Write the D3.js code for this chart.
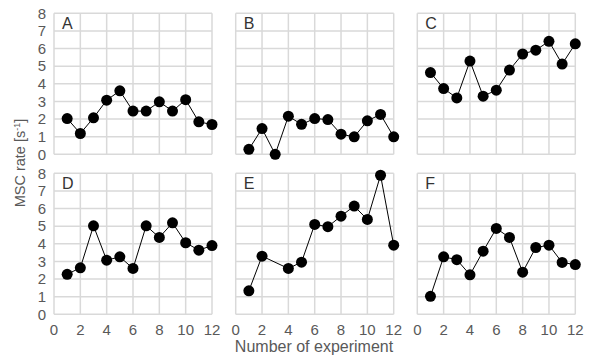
<!DOCTYPE html>
<html><head><meta charset="utf-8">
<script src="https://cdn.jsdelivr.net/npm/d3@7"></script>
<style>
html,body{margin:0;padding:0;background:#fff;}
svg{display:block;font-family:"Liberation Sans",Arial,sans-serif;}
</style></head>
<body><svg id="chart" width="597" height="358"></svg>
<script>
const panelNames = ["A","B","C","D","E","F"];
const experiments = [1,2,3,4,5,6,7,8,9,10,11,12];
const seriesA = [2.03,1.18,2.07,3.07,3.6,2.45,2.45,2.98,2.45,3.1,1.84,1.69];
const seriesB = [0.28,1.46,0.0,2.16,1.7,2.03,1.97,1.14,0.99,1.9,2.26,0.99];
const seriesC = [4.64,3.73,3.2,5.29,3.3,3.64,4.78,5.69,5.91,6.41,5.12,6.27];
const seriesD = [2.27,2.64,5.02,3.07,3.26,2.6,5.02,4.36,5.19,4.06,3.64,3.9];
const seriesE = [1.33,3.3,null,2.6,2.96,5.1,4.97,5.57,6.14,5.38,7.89,3.92];
const seriesF = [1.02,3.26,3.1,2.24,3.58,4.87,4.36,2.39,3.79,3.92,2.94,2.82];
const xTicks = [0,2,4,6,8,10,12];
const yTicks = [0,1,2,3,4,5,6,7,8];
const xLabel = "Number of experiment";
const allSeries = [seriesA,seriesB,seriesC,seriesD,seriesE,seriesF];

const svg = d3.select("#chart");
const pw = 158, ph = 141;
const lefts = [54, 235.7, 417.3];
const tops = [13.3, 173.3];
const x = d3.scaleLinear().domain([0,12]).range([0,pw]);
const y = d3.scaleLinear().domain([0,8]).range([ph,0]);
const gridColor = "#d9d9d9";

panelNames.forEach((name,i)=>{
  const col = i%3, row = Math.floor(i/3);
  const g = svg.append("g").attr("transform",`translate(${lefts[col]},${tops[row]})`);
  g.selectAll("line.h").data(yTicks).join("line").attr("class","h")
    .attr("x1",0).attr("x2",pw).attr("y1",d=>y(d)).attr("y2",d=>y(d))
    .attr("stroke",gridColor).attr("stroke-width",1.5);
  g.selectAll("line.v").data(xTicks).join("line").attr("class","v")
    .attr("y1",0).attr("y2",ph).attr("x1",d=>x(d)).attr("x2",d=>x(d))
    .attr("stroke",gridColor).attr("stroke-width",1.5);
  g.append("text").attr("x",8).attr("y",15.5).attr("font-size",16).attr("fill","#333").text(name);
  const pts = experiments.map((e,k)=>({x:e,y:allSeries[i][k]})).filter(d=>d.y!==null);
  g.append("path").datum(pts)
    .attr("d",d3.line().x(d=>x(d.x)).y(d=>y(d.y)))
    .attr("fill","none").attr("stroke","#000").attr("stroke-width",1);
  g.selectAll("circle").data(pts).join("circle")
    .attr("cx",d=>x(d.x)).attr("cy",d=>y(d.y)).attr("r",5.5).attr("fill","#000");
  if(col===0){
    g.selectAll("text.yt").data(yTicks).join("text").attr("class","yt")
      .attr("x",-8).attr("y",d=>y(d)).attr("dy","0.35em").attr("text-anchor","end")
      .attr("font-size",15).attr("fill","#595959").text(d=>d);
  }
  if(row===1){
    g.selectAll("text.xt").data(xTicks).join("text").attr("class","xt")
      .attr("x",d=>x(d)).attr("y",ph+21).attr("text-anchor","middle")
      .attr("font-size",15).attr("fill","#595959").text(d=>d);
  }
});

svg.append("text").attr("transform","translate(25,163) rotate(-90)")
  .attr("text-anchor","middle").attr("font-size",14.5).attr("fill","#595959")
  .html('MSC rate [s<tspan baseline-shift="super" font-size="9">-1</tspan>]');
svg.append("text").attr("x",314).attr("y",352).attr("text-anchor","middle")
  .attr("font-size",16).attr("fill","#595959").text(xLabel);
</script></body></html>
